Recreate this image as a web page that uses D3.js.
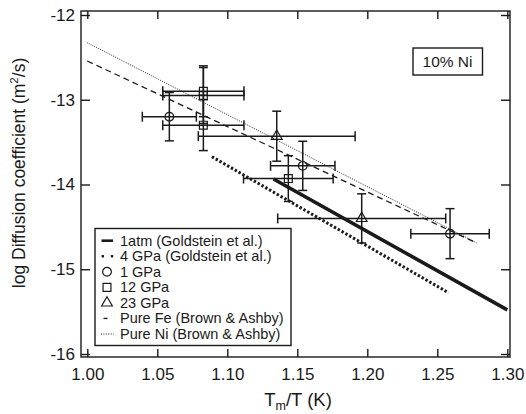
<!DOCTYPE html>
<html>
<head>
<meta charset="utf-8">
<script src="https://cdn.jsdelivr.net/npm/d3@7"></script>
<style>
  body { margin: 0; background: #fff; }
  svg text { font-family: "Liberation Sans", Arial, Helvetica, sans-serif; fill: #1a1a1a; }
</style>
</head>
<body>
<svg id="chart" width="526" height="414"></svg>
<script>
// Axis ticks
const xTicks = [1.00, 1.05, 1.10, 1.15, 1.20, 1.25, 1.30];
const yTicks = [-12, -13, -14, -15, -16];

// Measurements: [Tm/T, log D, x error, y error]
const gpa1 = [
  [1.0586, -13.20, 0.0193, 0.285],
  [1.1539, -13.78, 0.023, 0.29],
  [1.2591, -14.58, 0.028, 0.295]
];
const gpa12 = [
  [1.0829, -12.90, 0.029, 0.30],
  [1.0829, -12.95, 0.029, 0.33],
  [1.0829, -13.30, 0.029, 0.30],
  [1.1436, -13.93, 0.032, 0.27]
];
const gpa23 = [
  [1.1353, -13.43, 0.056, 0.295],
  [1.1960, -14.40, 0.060, 0.29]
];

// Arrhenius fits, given by their end points [Tm/T, log D]
const goldstein1atm = [[1.133, -13.935], [1.300, -15.48]];
const goldstein4GPa = [[1.089, -13.672], [1.258, -15.277]];
const pureFe = [[1.000, -12.543], [1.278, -14.690]];
const pureNi = [[1.000, -12.327], [1.278, -14.687]];

const legendLabels = [
  "1atm (Goldstein et al.)",
  "4 GPa (Goldstein et al.)",
  "1 GPa",
  "12 GPa",
  "23 GPa",
  "Pure Fe (Brown & Ashby)",
  "Pure Ni (Brown & Ashby)"
];
const panelLabel = "10% Ni";

const ink = "#1a1a1a";
const svg = d3.select("#chart");

// plot frame
const frame = { left: 81, right: 510, top: 11, bottom: 357 };
const x = d3.scaleLinear().domain([1.00, 1.30]).range([87.3, 507.3]);
const y = d3.scaleLinear().domain([-12, -16]).range([15, 354]);

// frame box
svg.append("rect")
  .attr("x", frame.left).attr("y", frame.top)
  .attr("width", frame.right - frame.left).attr("height", frame.bottom - frame.top)
  .attr("fill", "none").attr("stroke", ink).attr("stroke-width", 1.4);

const tickFmtX = d3.format(".2f");
const tickFmtY = d => String(d);

function styleAxis(g, showText) {
  g.select(".domain").remove();
  g.selectAll(".tick line").attr("stroke", ink).attr("stroke-width", 1.4);
  g.selectAll(".tick text")
    .attr("font-size", 17)
    .attr("fill", ink)
    .style("font-family", "'Liberation Sans', Arial, sans-serif");
  if (!showText) g.selectAll(".tick text").remove();
}

svg.append("g").attr("transform", `translate(0,${frame.bottom})`)
  .call(d3.axisBottom(x).tickValues(xTicks).tickFormat(tickFmtX).tickSize(-8).tickPadding(11))
  .call(g => styleAxis(g, true));
svg.append("g").attr("transform", `translate(0,${frame.top})`)
  .call(d3.axisTop(x).tickValues(xTicks).tickSize(-8))
  .call(g => styleAxis(g, false));
svg.append("g").attr("transform", `translate(${frame.left},0)`)
  .call(d3.axisLeft(y).tickValues(yTicks).tickFormat(tickFmtY).tickSize(-9).tickPadding(6))
  .call(g => styleAxis(g, true));
svg.append("g").attr("transform", `translate(${frame.right},0)`)
  .call(d3.axisRight(y).tickValues(yTicks).tickSize(-9))
  .call(g => styleAxis(g, false));

// axis titles
const yTitle = svg.append("text")
  .attr("transform", "translate(25,173) rotate(-90)")
  .attr("text-anchor", "middle")
  .attr("font-size", 17.5);
yTitle.append("tspan").text("log Diffusion coefficient (m");
yTitle.append("tspan").attr("font-size", 11.5).attr("dy", -7).text("2");
yTitle.append("tspan").attr("dy", 7).text("/s)");

const xTitle = svg.append("text")
  .attr("x", 298).attr("y", 406)
  .attr("text-anchor", "middle")
  .attr("font-size", 18.5);
xTitle.append("tspan").text("T");
xTitle.append("tspan").attr("font-size", 12.5).attr("dy", 3.5).text("m");
xTitle.append("tspan").attr("dy", -3.5).text("/T (K)");

// fitted lines
const line = d3.line().x(d => x(d[0])).y(d => y(d[1]));
const fits = [
  { data: pureNi, width: 1.0, dash: "1,1.4" },
  { data: pureFe, width: 1.3, dash: "6,4" },
  { data: goldstein4GPa, width: 3.0, dash: "2.4,2" },
  { data: goldstein1atm, width: 3.6, dash: null }
];
svg.append("g").selectAll("path").data(fits).join("path")
  .attr("d", d => line(d.data))
  .attr("fill", "none")
  .attr("stroke", ink)
  .attr("stroke-width", d => d.width)
  .attr("stroke-dasharray", d => d.dash);

// error bars
const allPoints = [
  ...gpa1.map(d => ({ d, shape: "circle" })),
  ...gpa12.map(d => ({ d, shape: "square" })),
  ...gpa23.map(d => ({ d, shape: "triangle" }))
];
const eb = svg.append("g").attr("stroke", ink).attr("stroke-width", 1.5).attr("fill", "none");
allPoints.forEach(({ d }) => {
  const cx = x(d[0]), cy = y(d[1]);
  const x0 = x(d[0] - d[2]), x1 = x(d[0] + d[2]);
  const y0 = y(d[1] + d[3]), y1 = y(d[1] - d[3]);
  eb.append("line").attr("x1", x0).attr("x2", x1).attr("y1", cy).attr("y2", cy);
  eb.append("line").attr("x1", x0).attr("x2", x0).attr("y1", cy - 5).attr("y2", cy + 5);
  eb.append("line").attr("x1", x1).attr("x2", x1).attr("y1", cy - 5).attr("y2", cy + 5);
  eb.append("line").attr("x1", cx).attr("x2", cx).attr("y1", y0).attr("y2", y1);
  eb.append("line").attr("x1", cx - 4.5).attr("x2", cx + 4.5).attr("y1", y0).attr("y2", y0);
  eb.append("line").attr("x1", cx - 4.5).attr("x2", cx + 4.5).attr("y1", y1).attr("y2", y1);
});

// markers
const symbolGen = {
  circle: d3.symbol(d3.symbolCircle, 60),
  square: d3.symbol(d3.symbolSquare, 62),
  triangle: d3.symbol(d3.symbolTriangle, 50)
};
svg.append("g").selectAll("path").data(allPoints).join("path")
  .attr("transform", p => `translate(${x(p.d[0])},${y(p.d[1])})`)
  .attr("d", p => symbolGen[p.shape]())
  .attr("fill", "none")
  .attr("stroke", ink)
  .attr("stroke-width", 1.2);

// legend
const lg = svg.append("g");
lg.append("rect")
  .attr("x", 95).attr("y", 228.5).attr("width", 196).attr("height", 117)
  .attr("fill", "#fff").attr("stroke", ink).attr("stroke-width", 1.4);
const rowY = i => 240.7 + i * 15.55;
legendLabels.forEach((t, i) => {
  lg.append("text").attr("x", 120).attr("y", rowY(i) + 5).attr("font-size", 14.5).text(t);
});
// legend keys
lg.append("line").attr("x1", 101.5).attr("x2", 113).attr("y1", rowY(0)).attr("y2", rowY(0))
  .attr("stroke", ink).attr("stroke-width", 2.6);
[102.8, 112].forEach(cx => lg.append("rect").attr("x", cx - 1.2).attr("y", rowY(1) - 1.2)
  .attr("width", 2.4).attr("height", 2.4).attr("fill", ink));
lg.append("path").attr("transform", `translate(107,${rowY(2)})`).attr("d", symbolGen.circle())
  .attr("fill", "none").attr("stroke", ink).attr("stroke-width", 1.2);
lg.append("path").attr("transform", `translate(107,${rowY(3)})`).attr("d", symbolGen.square())
  .attr("fill", "none").attr("stroke", ink).attr("stroke-width", 1.2);
lg.append("path").attr("transform", `translate(107,${rowY(4)})`).attr("d", symbolGen.triangle())
  .attr("fill", "none").attr("stroke", ink).attr("stroke-width", 1.2);
lg.append("line").attr("x1", 103.5).attr("x2", 107.5).attr("y1", rowY(5)).attr("y2", rowY(5))
  .attr("stroke", ink).attr("stroke-width", 1.3);
lg.append("line").attr("x1", 101).attr("x2", 113.5).attr("y1", rowY(6)).attr("y2", rowY(6))
  .attr("stroke", ink).attr("stroke-width", 1).attr("stroke-dasharray", "1,1.4");

// panel label
svg.append("rect")
  .attr("x", 413).attr("y", 48).attr("width", 69.5).attr("height", 27)
  .attr("fill", "#fff").attr("stroke", ink).attr("stroke-width", 1.4);
svg.append("text").attr("x", 447.5).attr("y", 67).attr("text-anchor", "middle")
  .attr("font-size", 15.5).text(panelLabel);
</script>
</body>
</html>
